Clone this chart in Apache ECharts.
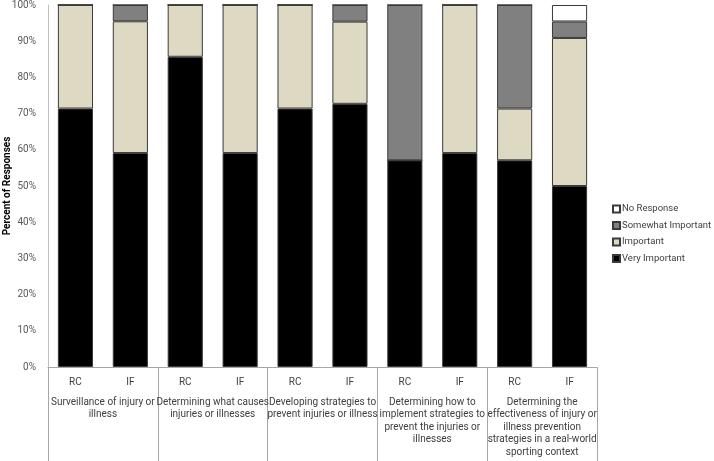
<!DOCTYPE html>
<html><head><meta charset="utf-8">
<script src="https://cdn.jsdelivr.net/npm/echarts@6/dist/echarts.min.js"></script>
<style>html,body{margin:0;padding:0;background:#fff}#c{width:714px;height:461px}</style>
</head><body><div id="c"></div>
<script>
const bars = ["RC","IF","RC","IF","RC","IF","RC","IF","RC","IF"];
const groups = [
  "Surveillance of injury or\nillness",
  "Determining what causes\ninjuries or illnesses",
  "Developing strategies to\nprevent injuries or illness",
  "Determining how to\nimplement strategies to\nprevent the injuries or\nillnesses",
  "Determining the\neffectiveness of injury or\nillness prevention\nstrategies in a real-world\nsporting context"
];
const veryImportant      = [71.4, 59.1, 85.7, 59.1, 71.4, 72.7, 57.1, 59.1, 57.1, 50.0];
const important          = [28.6, 36.4, 14.3, 40.9, 28.6, 22.7, 0,    40.9, 14.3, 40.9];
const somewhatImportant  = [0,    4.5,  0,    0,    0,    4.6,  42.9, 0,    28.6, 4.55];
const noResponse         = [0,    0,    0,    0,    0,    0,    0,    0,    0,    4.55];
const yTicks = [0,10,20,30,40,50,60,70,80,90,100];

const font = "Roboto, sans-serif";
const chart = echarts.init(document.getElementById('c'));
function s(name, data, color){
  return {name, type:'bar', stack:'t', data, barWidth:'64%',
    itemStyle:{color, borderColor:'#3a3a3a', borderWidth:1}};
}
chart.setOption({
  animation:false,
  textStyle:{fontFamily:font},
  grid:{left:48, right:117, top:5, bottom:94, containLabel:false, outerBoundsMode:'none'},
  legend:{orient:'vertical', left:612, top:204, padding:0, itemWidth:7, itemHeight:7, itemGap:6.5,
    data:['No Response','Somewhat Important','Important','Very Important'],
    textStyle:{fontFamily:font, fontSize:9.5, color:'#404040', padding:[0,0,0,-3]},
    icon:'rect'},
  xAxis:[
    {type:'category', data:bars, position:'bottom',
     axisLine:{lineStyle:{color:'#a6a6a6'}}, axisTick:{show:false},
     axisLabel:{fontFamily:font, fontSize:10, color:'#404040', margin:10}},
    {type:'category', data:groups, position:'bottom', offset:0,
     axisLine:{show:false}, axisTick:{show:true, length:94, lineStyle:{color:'#a6a6a6'}},
     axisLabel:{fontFamily:font, fontSize:10, color:'#404040', margin:29, lineHeight:12.5, verticalAlign:'top', interval:0}}
  ],
  yAxis:{type:'value', min:0, max:100, interval:10,
    name:'Percent of Responses', nameLocation:'middle', nameGap:36, nameMoveOverlap:false,
    nameTextStyle:{fontFamily:font, fontSize:10, fontWeight:'bold', color:'#000'},
    axisLine:{show:true, lineStyle:{color:'#bfbfbf'}}, axisTick:{show:false},
    splitLine:{show:false},
    axisLabel:{fontFamily:font, fontSize:10, color:'#595959', margin:12, formatter:v=>v+'%'}},
  series:[
    s('Very Important', veryImportant, '#000000'),
    s('Important', important, '#ddd9c3'),
    s('Somewhat Important', somewhatImportant, '#808080'),
    s('No Response', noResponse, '#ffffff')
  ]
});
</script></body></html>
